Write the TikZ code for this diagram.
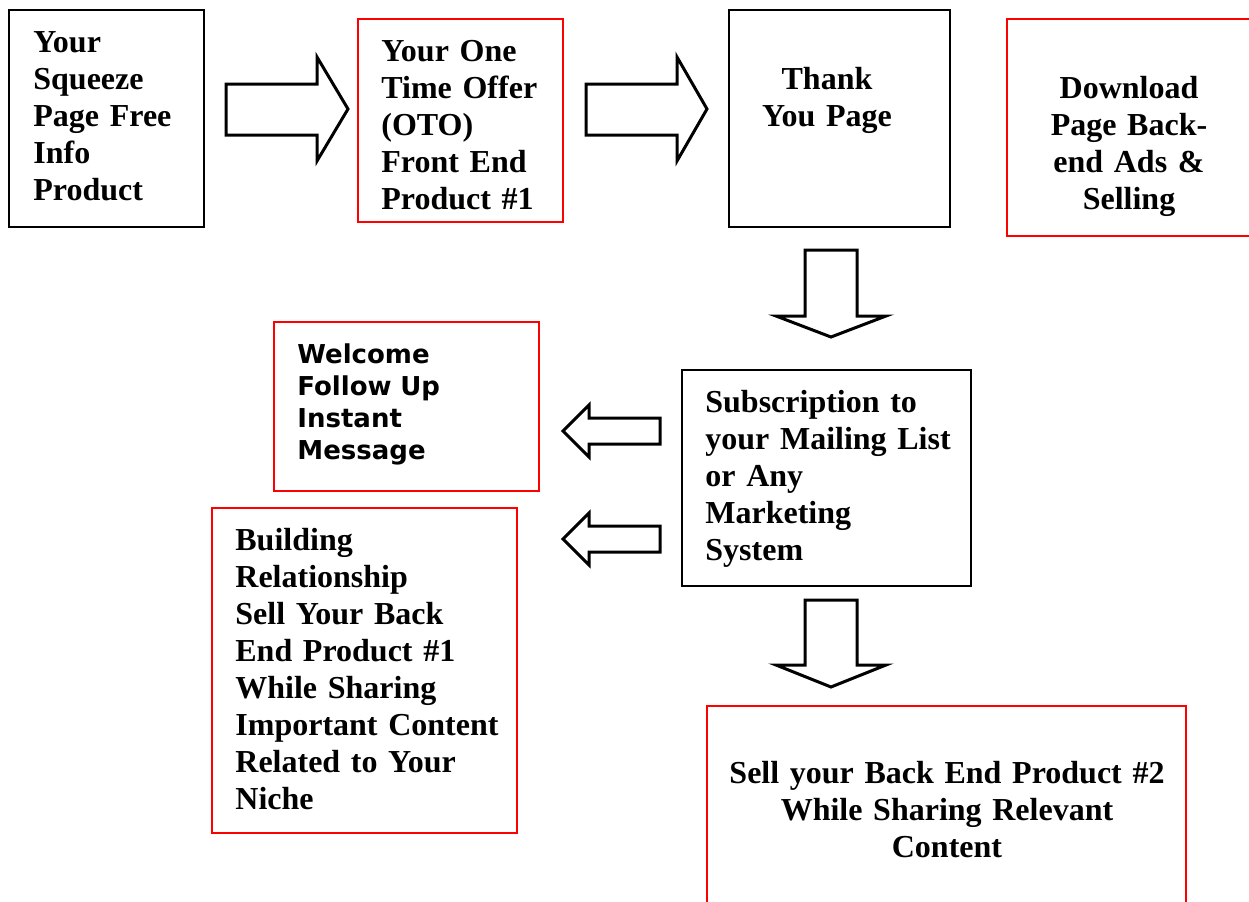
\documentclass[tikz,border=0pt]{standalone}
\usepackage{fontspec}
\setmainfont{Liberation Serif}[WordSpace=0.8]
\newfontfamily\vsans{DejaVu Sans}
\begin{document}
\begin{tikzpicture}[x=0.5pt,y=-0.5pt,
  blackbox/.style={draw=black, line width=1pt, inner sep=0pt},
  redbox/.style={draw=red, line width=1.2pt, inner sep=0pt},
  blockarrow/.style={draw=black, line width=1.5pt, fill=white, line join=miter},
  txt/.style={inner sep=0pt, text width=170pt, align=left, anchor=base west,
    font=\fontsize{16}{18.5}\selectfont\bfseries},
  ctxt/.style={inner sep=0pt, text width=240pt, align=center, anchor=base,
    font=\fontsize{16}{18.5}\selectfont\bfseries},
  stxt/.style={inner sep=0pt, text width=170pt, align=left, anchor=base west,
    font=\fontsize{13}{16}\selectfont\vsans\bfseries}]
\useasboundingbox (0,0) rectangle (1249,901);
\clip (0,0) rectangle (1249,901);

% boxes
\node[blackbox, minimum width=97.5pt, minimum height=108.5pt] (b1) at (106.5,118.5) {};
\node[redbox, minimum width=102.5pt, minimum height=101.5pt] (b2) at (460.5,120.5) {};
\node[blackbox, minimum width=110.5pt, minimum height=108.5pt] (b3) at (839.5,118.5) {};
\node[redbox, minimum width=126.5pt, minimum height=108.5pt] (b4) at (1133.5,127.5) {};
\node[redbox, minimum width=132.5pt, minimum height=84.5pt] (b5) at (406.5,406.5) {};
\node[blackbox, minimum width=144.5pt, minimum height=108pt] (b6) at (826.5,478) {};
\node[redbox, minimum width=152.5pt, minimum height=162.5pt] (b7) at (364.5,670.5) {};
\node[redbox, minimum width=239.5pt, minimum height=107pt] (b8) at (946.5,813) {};

% texts
\node[txt] (t1) at (33,52) {Your\\Squeeze\\Page Free\\Info\\Product};
\node[txt] (t2) at (381,61) {Your One\\Time Offer\\(OTO)\\Front End\\Product \#1};
\node[ctxt] (t3) at (827,89) {Thank\\You Page};
\node[ctxt] (t4) at (1129,98) {Download\\Page Back-\\end Ads \&\\Selling};
\node[stxt] (t5) at (297,363) {Welcome\\Follow Up\\Instant\\Message};
\node[txt] (t6) at (705,412) {Subscription to\\your Mailing List\\or Any\\Marketing\\System};
\node[txt] (t7) at (235,550) {Building\\Relationship\\Sell Your Back\\End Product \#1\\While Sharing\\Important Content\\Related to Your\\Niche};
\node[ctxt] (t8) at (947,783) {Sell your Back End Product \#2\\While Sharing Relevant\\Content};

% block arrows
\draw[blockarrow] (226,84) -- (317,84) -- (317,57) -- (348,109) -- (317,161) -- (317,135) -- (226,135) -- cycle;
\draw[blockarrow] (586,84) -- (677,84) -- (677,57) -- (707,109) -- (677,161) -- (677,135) -- (586,135) -- cycle;
\draw[blockarrow] (805,250) -- (857,250) -- (857,316) -- (886,316) -- (831,337) -- (776,316) -- (805,316) -- cycle;
\draw[blockarrow] (805,600) -- (857,600) -- (857,665) -- (886,665) -- (831,687) -- (776,665) -- (805,665) -- cycle;
\draw[blockarrow] (660,418) -- (589,418) -- (589,405) -- (563,431) -- (589,457) -- (589,444) -- (660,444) -- cycle;
\draw[blockarrow] (660,526) -- (589,526) -- (589,513) -- (563,539) -- (589,565) -- (589,552) -- (660,552) -- cycle;
\end{tikzpicture}
\end{document}
